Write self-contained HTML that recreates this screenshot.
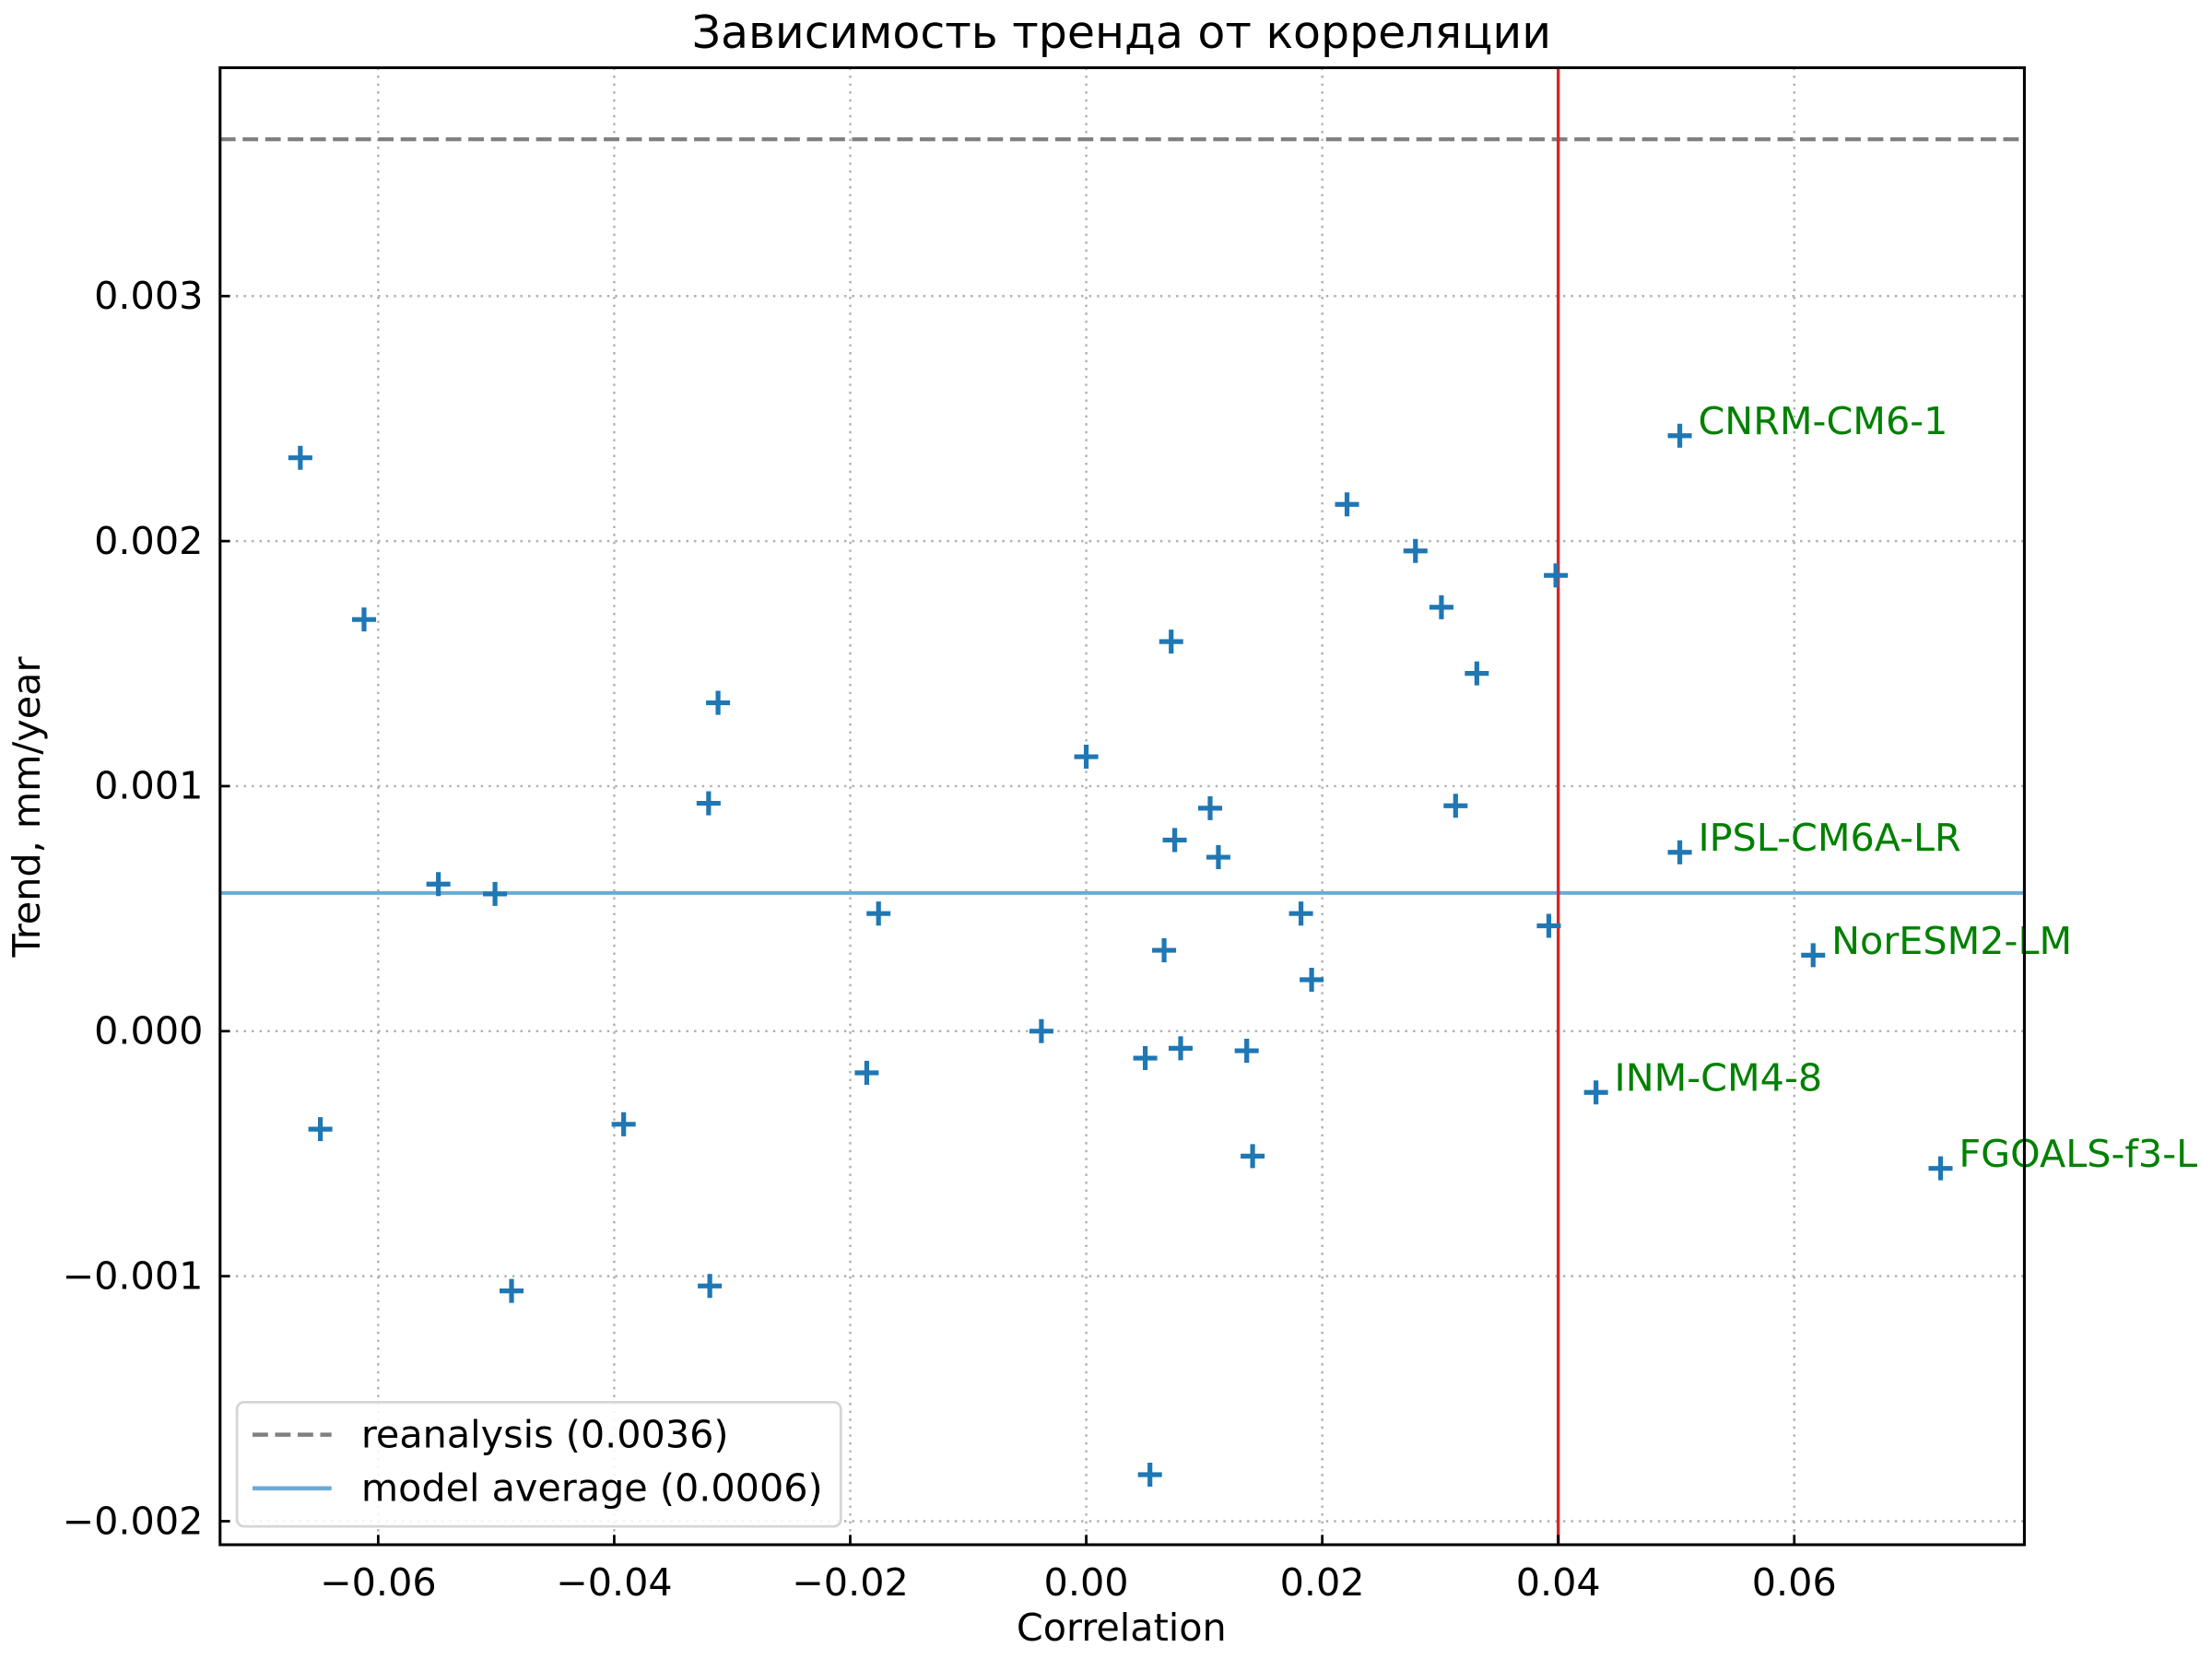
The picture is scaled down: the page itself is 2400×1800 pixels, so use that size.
<!DOCTYPE html>
<html><head><meta charset="utf-8"><style>
html,body{margin:0;padding:0;background:#fff;}
svg{display:block;}
text{font-family:"DejaVu Sans","Liberation Sans",sans-serif;}
</style></head><body>
<svg id="chart" width="2400" height="1800" viewBox="0 0 1568 1176" preserveAspectRatio="none" xmlns="http://www.w3.org/2000/svg">
<text x="795" y="34" font-size="32" text-anchor="middle">Зависимость тренда от корреляции</text>
<text x="795" y="1163" font-size="27" text-anchor="middle">Correlation</text>
<text transform="translate(28,572) rotate(-90)" font-size="27" text-anchor="middle">Trend, mm/year</text>
<g id="grid"></g><g id="lines"></g><g id="marks"></g><g id="ticks"></g>
<rect x="156" y="48" width="1279" height="1047" fill="none" stroke="#000" stroke-width="2"/>
<g>
<rect x="168" y="994" width="428" height="88" rx="5" fill="#fff" fill-opacity="0.85" stroke="#d5d5d5" stroke-width="1.8"/>
<line x1="179" y1="1017" x2="235" y2="1017" stroke="#808080" stroke-width="3" stroke-dasharray="11,5"/>
<text x="256" y="1026" font-size="27">reanalysis (0.0036)</text>
<line x1="179" y1="1055" x2="235" y2="1055" stroke="#6baad6" stroke-width="3"/>
<text x="256" y="1064" font-size="27">model average (0.0006)</text>
</g>
</svg>
<script>
const xs=[-0.0666,-0.0649,-0.0612,-0.0549,-0.0501,-0.0487,-0.0392,-0.0320,-0.0312,-0.0319,-0.0186,-0.0176,-0.0038,0.0000,0.0050,0.0054,0.0066,0.0072,0.0075,0.0080,0.0105,0.0112,0.0136,0.0141,0.0182,0.0191,0.0221,0.0279,0.0301,0.0313,0.0331,0.0398,0.0392,0.0432,0.0503,0.0503,0.0616,0.0724];
const ys=[0.00234,-0.00040,0.00168,0.00060,0.00056,-0.00106,-0.00038,0.00093,0.00134,-0.00104,-0.00017,0.00048,0.0000,0.00112,-0.00011,-0.00181,0.00033,0.00159,0.00078,-0.00007,0.00091,0.00071,-0.00008,-0.00051,0.00048,0.00021,0.00215,0.00196,0.00173,0.00092,0.00146,0.00186,0.00043,-0.00025,0.00243,0.00073,0.00031,-0.00056];
const labelNames=["INM-CM4-8","CNRM-CM6-1","IPSL-CM6A-LR","NorESM2-LM","FGOALS-f3-L"];
const labelIdx=[33,34,35,36,37];
const xTicks=[-0.06,-0.04,-0.02,0.00,0.02,0.04,0.06];
const xTickLabels=["−0.06","−0.04","−0.02","0.00","0.02","0.04","0.06"];
const yTicks=[-0.002,-0.001,0.000,0.001,0.002,0.003];
const yTickLabels=["−0.002","−0.001","0.000","0.001","0.002","0.003"];
const reanalysis=0.00364, modelAvg=0.000564, corrThreshold=0.04;
const X0=-0.0734,X1=0.0795,Y0=-0.002096,Y1=0.003932;
const L=156,R=1435,T=48,B=1095;
const sx=v=>L+(v-X0)/(X1-X0)*(R-L);
const sy=v=>B-(v-Y0)/(Y1-Y0)*(B-T);
const NS="http://www.w3.org/2000/svg";
function mk(tag,attrs,parent){const e=document.createElementNS(NS,tag);for(const k in attrs)e.setAttribute(k,attrs[k]);document.getElementById(parent).appendChild(e);return e;}
xTicks.forEach((t,i)=>{const x=sx(t);
 const g=mk('line',{x1:x,y1:T,x2:x,y2:B,stroke:'#b0b0b0','stroke-width':1.6,'stroke-dasharray':'1.6,4'},'grid');
 
 
 const tk=mk('line',{x1:x,y1:B,x2:x,y2:B-7,stroke:'#000','stroke-width':1.8},'ticks');
 
 
 const tl=mk('text',{x:x,y:B+36,'font-size':27,'text-anchor':'middle'},'ticks');tl.textContent=xTickLabels[i];
 
 
});
yTicks.forEach((t,i)=>{const y=sy(t);
 const g=mk('line',{x1:L,y1:y,x2:R,y2:y,stroke:'#b0b0b0','stroke-width':1.6,'stroke-dasharray':'1.6,4'},'grid');
 
 
 const tk=mk('line',{x1:L,y1:y,x2:L+7,y2:y,stroke:'#000','stroke-width':1.8},'ticks');
 
 
 const tl=mk('text',{x:L-12,y:y+9,'font-size':27,'text-anchor':'end'},'ticks');tl.textContent=yTickLabels[i];
 
 
});
const rl=mk('line',{x1:L,y1:sy(reanalysis),x2:R,y2:sy(reanalysis),stroke:'#808080','stroke-width':2.8,'stroke-dasharray':'11,5'},'lines');


const ml=mk('line',{x1:L,y1:sy(modelAvg),x2:R,y2:sy(modelAvg),stroke:'#6baad6','stroke-width':2.6},'lines');


const cl=mk('line',{x1:sx(corrThreshold),y1:T,x2:sx(corrThreshold),y2:B,stroke:'#d62728','stroke-width':2.2},'lines');


xs.forEach((v,i)=>{const x=sx(v),y=sy(ys[i]);
 const p=mk('path',{d:`M${x-8.5},${y}H${x+8.5}M${x},${y-8.5}V${y+8.5}`,stroke:'#1f77b4','stroke-width':3.4,fill:'none'},'marks');
 
 
});
labelIdx.forEach((idx,j)=>{
 const t=mk('text',{x:sx(xs[idx])+13,y:sy(ys[idx])-1,'font-size':27,fill:'#008000'},'marks');t.textContent=labelNames[j];
 
 
});
</script>
</body></html>
